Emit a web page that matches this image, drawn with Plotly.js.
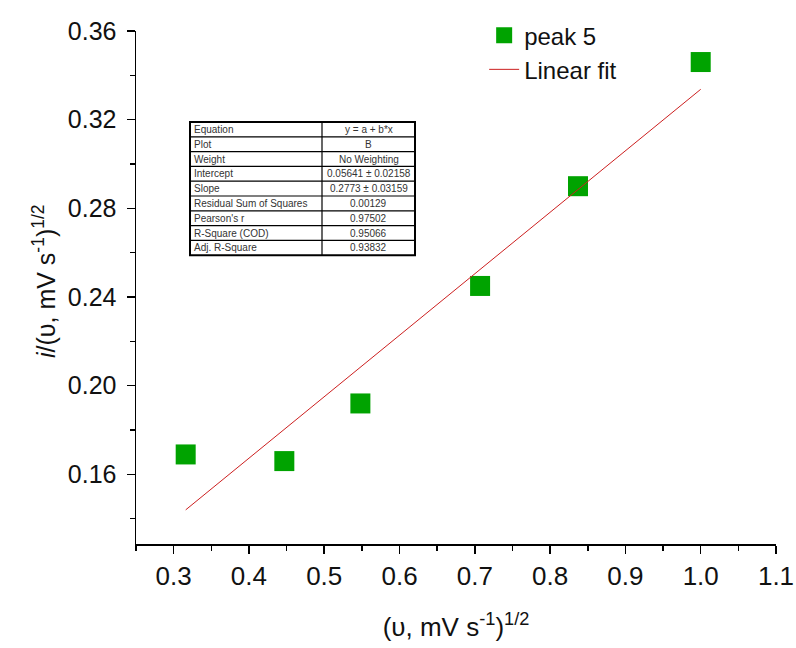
<!DOCTYPE html>
<html>
<head>
<meta charset="utf-8">
<script src="https://cdn.plot.ly/plotly-3.0.1.min.js"></script>
<style>html,body{margin:0;padding:0;background:#fff;}#chart{width:796px;height:648px;}</style>
</head>
<body>
<div id="chart"></div>
<script>
// Data
const peakX = [0.316, 0.447, 0.548, 0.707, 0.837, 1.0];
const peakY = [0.169, 0.166, 0.192, 0.245, 0.290, 0.346];
const fitX = [0.316, 1.0];
const fitY = [0.1440, 0.3337];
const tableLabels = ["Equation", "Plot", "Weight", "Intercept", "Slope", "Residual Sum of Squares", "Pearson's r", "R-Square (COD)", "Adj. R-Square"];
const tableValues = ["y = a + b*x", "B", "No Weighting", "0.05641 ± 0.02158", "0.2773 ± 0.03159", "0.00129", "0.97502", "0.95066", "0.93832"];
const xTitle = '(υ, mV s<sup>-1</sup>)<sup>1/2</sup>';
const yTitle = '<i>i</i>/(υ, mV s<sup>-1</sup>)<sup>1/2</sup>';

const font = "Liberation Sans, Arial, sans-serif";

// Plot area geometry (pixels) used to place the stats table in paper coords
const W = 796, H = 648, mL = 136, mR = 20, mT = 31, mB = 104;
const pw = W - mL - mR, ph = H - mT - mB;
const px = v => (v - mL) / pw;
const py = v => (H - mB - v) / ph;
const tblL = 190, tblR = 415, tblMid = 322, tblTop = 122, rowH = 14.8;
const nRows = tableLabels.length;

const shapes = [];
const annotations = [];
// outer border
shapes.push({type: 'rect', xref: 'paper', yref: 'paper', x0: px(tblL), x1: px(tblR),
  y0: py(tblTop + nRows * rowH), y1: py(tblTop), line: {color: '#000', width: 2}, fillcolor: '#fff', layer: 'above'});
// column divider
shapes.push({type: 'line', xref: 'paper', yref: 'paper', x0: px(tblMid), x1: px(tblMid),
  y0: py(tblTop + nRows * rowH), y1: py(tblTop), line: {color: '#000', width: 1.2}});
for (let i = 0; i < nRows; i++) {
  if (i > 0) {
    shapes.push({type: 'line', xref: 'paper', yref: 'paper', x0: px(tblL), x1: px(tblR),
      y0: py(tblTop + i * rowH), y1: py(tblTop + i * rowH), line: {color: '#000', width: 1.2}});
  }
  const yc = py(tblTop + (i + 0.5) * rowH);
  annotations.push({xref: 'paper', yref: 'paper', x: px(tblL + 2), y: yc, xanchor: 'left', yanchor: 'middle',
    text: tableLabels[i], showarrow: false, font: {family: font, size: 10, color: '#333'}});
  annotations.push({xref: 'paper', yref: 'paper', x: px((tblMid + tblR) / 2), y: yc, xanchor: 'center', yanchor: 'middle',
    text: tableValues[i], showarrow: false, font: {family: font, size: 10, color: '#333'}});
}
// y-axis title as a rotated annotation for exact placement
annotations.push({xref: 'paper', yref: 'paper', x: px(44), y: py(281), xanchor: 'center', yanchor: 'middle',
  textangle: -90, text: yTitle, showarrow: false, font: {family: font, size: 25, color: '#111'}});

const traces = [
  {
    x: peakX, y: peakY, type: 'scatter', mode: 'markers', name: 'peak 5',
    marker: {symbol: 'square', size: 20, color: '#00a300'}
  },
  {
    x: fitX, y: fitY, type: 'scatter', mode: 'lines', name: 'Linear fit',
    line: {color: '#cc1f1f', width: 1}
  }
];

const layout = {
  width: W, height: H,
  margin: {l: mL, r: mR, t: mT, b: mB},
  paper_bgcolor: '#fff', plot_bgcolor: '#fff',
  showlegend: true,
  legend: {
    x: 0.544, y: 1.035, xanchor: 'left', yanchor: 'top',
    bgcolor: 'rgba(0,0,0,0)',
    font: {family: font, size: 24, color: '#111'}
  },
  xaxis: {
    range: [0.25, 1.1], tick0: 0.3, dtick: 0.1, tickformat: '.1f',
    showline: true, linecolor: '#000', linewidth: 1.5, mirror: false,
    showgrid: false, zeroline: false,
    ticks: 'outside', ticklen: 8, tickwidth: 1.5, tickcolor: '#000',
    minor: {dtick: 0.05, ticks: 'outside', ticklen: 5, tickwidth: 1.5, tickcolor: '#000', showgrid: false},
    tickfont: {family: font, size: 26, color: '#111'},
    title: {text: xTitle, font: {family: font, size: 26, color: '#111'}, standoff: 28},
    automargin: false
  },
  yaxis: {
    range: [0.1286, 0.36], tick0: 0.16, dtick: 0.04, tickformat: '.2f',
    showline: true, linecolor: '#000', linewidth: 1.5, mirror: false,
    showgrid: false, zeroline: false,
    ticks: 'outside', ticklen: 8, tickwidth: 1.5, tickcolor: '#000',
    ticklabelstandoff: 5,
    minor: {dtick: 0.02, ticks: 'outside', ticklen: 5, tickwidth: 1.5, tickcolor: '#000', showgrid: false},
    tickfont: {family: font, size: 25, color: '#111'},
    automargin: false
  },
  shapes: shapes,
  annotations: annotations
};

Plotly.newPlot('chart', traces, layout, {displayModeBar: false, staticPlot: true});
</script>
</body>
</html>
